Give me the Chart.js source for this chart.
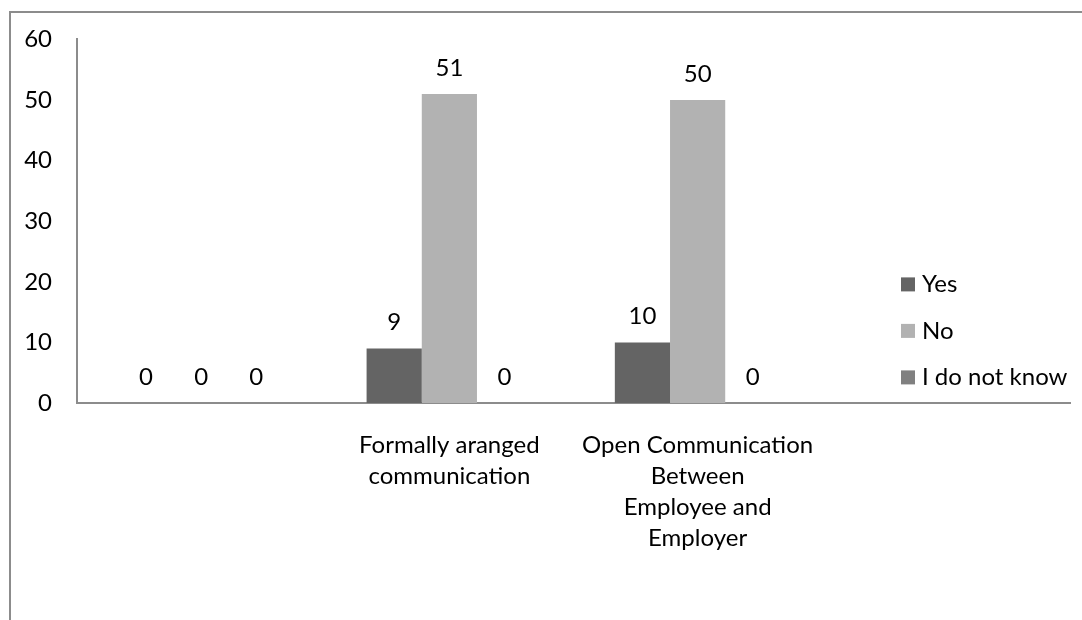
<!DOCTYPE html>
<html>
<head>
<meta charset="utf-8">
<script src="https://cdn.jsdelivr.net/npm/chart.js@4/dist/chart.umd.min.js"></script>
<style>
  html, body { margin: 0; padding: 0; background: #ffffff; }
  #wrap { width: 1082px; height: 620px; position: relative; }
</style>
</head>
<body>
<div id="wrap"><canvas id="c" width="1082" height="620"></canvas></div>
<script>
// Categories (the first and last slots carry no label)
const categories = [
  '',
  ['Formally aranged', 'communication'],
  ['Open Communication', 'Between', 'Employee and', 'Employer'],
  ''
];

// Series
const seriesNames = ['Yes', 'No', 'I do not know'];
const yesValues = [0, 9, 10, null];
const noValues = [0, 51, 50, null];
const dontKnowValues = [0, 0, 0, null];

// Value axis
const yMin = 0;
const yMax = 60;
const yStep = 10;

const seriesColors = ['#646464', '#b2b2b2', '#808080'];
const FONT = 'Lato, Calibri, "Open Sans", sans-serif';
const FONT_SIZE = 24;
const AXIS_COLOR = '#8c8c8c';

// Outer frame, value labels above bars and the legend list
const decorations = {
  id: 'decorations',
  beforeDraw(chart) {
    const ctx = chart.ctx;
    ctx.save();
    ctx.strokeStyle = '#8c8c8c';
    ctx.lineWidth = 2;
    ctx.beginPath();
    ctx.moveTo(10, chart.height);
    ctx.lineTo(10, 12);
    ctx.lineTo(chart.width, 12);
    ctx.stroke();
    ctx.restore();
  },
  afterDatasetsDraw(chart) {
    const ctx = chart.ctx;
    ctx.save();
    ctx.font = FONT_SIZE + 'px ' + FONT;
    ctx.fillStyle = '#000000';
    ctx.textAlign = 'center';
    ctx.textBaseline = 'middle';
    chart.data.datasets.forEach((ds, di) => {
      const meta = chart.getDatasetMeta(di);
      meta.data.forEach((bar, i) => {
        const v = ds.data[i];
        if (v === null || v === undefined) return;
        ctx.fillText(String(v), bar.x, bar.y - 26);
      });
    });
    ctx.restore();
  },
  afterDraw(chart) {
    const ctx = chart.ctx;
    const area = chart.chartArea;
    ctx.save();
    ctx.font = FONT_SIZE + 'px ' + FONT;
    ctx.textAlign = 'left';
    ctx.textBaseline = 'middle';
    const x0 = area.right - 169;
    const yStart = area.top + 245;
    const gap = 46.5;
    chart.data.datasets.forEach((ds, di) => {
      const cy = yStart + di * gap;
      ctx.fillStyle = ds.backgroundColor;
      ctx.fillRect(x0, cy - 7, 14, 14);
      ctx.fillStyle = '#000000';
      ctx.fillText(ds.label, x0 + 21, cy);
    });
    ctx.restore();
  }
};

const datasets = [yesValues, noValues, dontKnowValues].map((vals, i) => ({
  label: seriesNames[i],
  data: vals,
  backgroundColor: seriesColors[i],
  borderWidth: 0,
  categoryPercentage: 0.667,
  barPercentage: 1.0
}));

new Chart(document.getElementById('c'), {
  type: 'bar',
  data: { labels: categories, datasets: datasets },
  options: {
    responsive: false,
    devicePixelRatio: 1,
    animation: false,
    layout: { padding: { top: 27, left: 0, right: 12, bottom: 0 } },
    plugins: {
      legend: { display: false },
      tooltip: { enabled: false }
    },
    scales: {
      x: {
        grid: { display: false, drawTicks: false },
        border: { display: true, color: AXIS_COLOR, width: 2 },
        ticks: {
          color: '#000000',
          font: { family: FONT, size: FONT_SIZE, lineHeight: 1.29 },
          padding: 27,
          maxRotation: 0,
          autoSkip: false
        },
        afterFit(scale) { scale.height = 217; }
      },
      y: {
        min: yMin,
        max: yMax,
        grid: { display: false, drawTicks: false },
        border: { display: true, color: AXIS_COLOR, width: 2 },
        ticks: {
          stepSize: yStep,
          color: '#000000',
          font: { family: FONT, size: FONT_SIZE },
          padding: 25
        },
        afterFit(scale) { scale.width = 77; }
      }
    }
  },
  plugins: [decorations]
});
</script>
</body>
</html>
